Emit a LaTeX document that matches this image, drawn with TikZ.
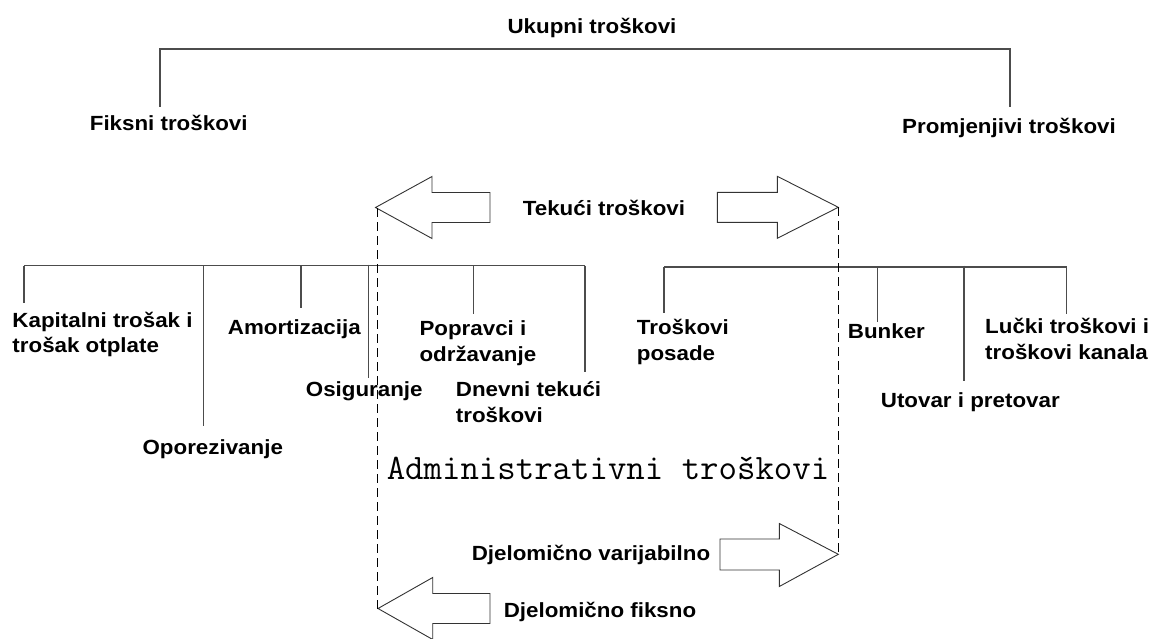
\documentclass[tikz,border=0pt]{standalone}
\usepackage{fontspec}
\setmainfont{Liberation Sans}
\newfontfamily\lab{Liberation Sans}[FakeStretch=1.09]
\begin{document}
\begin{tikzpicture}[x=1pt,y=-1pt,
  lbl/.style={font=\lab\bfseries\fontsize{20.5}{25.5}\selectfont, inner sep=0pt, text=black},
  lbl2/.style={lbl, align=left, anchor=north west},
  tree/.style={draw=black!70, line width=1.3pt},
  bigarrow/.style={draw=black!80, line width=0.9pt, fill=white, line join=miter},
  guide/.style={draw=black, line width=1pt, dash pattern=on 9pt off 5pt}]
\useasboundingbox (0,0) rectangle (1150,639);

% ---------- top level ----------
\node[lbl, anchor=base] (total) at (592,34) {Ukupni troškovi};
\node[lbl, anchor=base] (fix) at (168.7,131) {Fiksni troškovi};
\node[lbl, anchor=base] (var) at (1009,134) {Promjenjivi troškovi};
\coordinate (tl) at (160,49);
\coordinate (tr) at (1010,49);
\coordinate (tlb) at (160,107);
\coordinate (trb) at (1010,107);
\draw[tree] (tlb) -- (tl) -- (tr) -- (trb);

% ---------- arrows ----------
\node[lbl, anchor=base] (cur) at (604,215) {Tekući troškovi};
\coordinate (a1) at (375.5,207.5);
\coordinate (a2) at (838.3,207.3);
\coordinate (a3) at (838.3,554.3);
\coordinate (a4) at (378,608.5);
\draw[bigarrow] (a1) -- (432,176.5) -- (432,192.5) -- (490,192.5) -- (490,222.5) -- (432,222.5) -- (432,238.5) -- cycle;
\draw[bigarrow] (a2) -- (777.3,176.3) -- (777.3,192.3) -- (717.3,192.3) -- (717.3,222.3) -- (777.3,222.3) -- (777.3,238.3) -- cycle;
\draw[bigarrow] (a3) -- (779.3,523.5) -- (779.3,539) -- (720,539) -- (720,570) -- (779.3,570) -- (779.3,586.5) -- cycle;
\draw[bigarrow] (a4) -- (432.7,577.5) -- (432.7,593.5) -- (490,593.5) -- (490,623.5) -- (432.7,623.5) -- (432.7,639.5) -- cycle;
\node[lbl, anchor=base] (pvar) at (591,560) {Djelomično varijabilno};
\node[lbl, anchor=base] (pfix) at (600,617) {Djelomično fiksno};
\node[font=\ttfamily\fontsize{35.8}{36}\selectfont\addfontfeatures{FakeBold=1.2}, inner sep=0pt, anchor=base] (adm) at (608,479) {Administrativni troškovi};

% ---------- fixed costs ----------
\node[lbl2] (kap) at (12.3,311.5) {Kapitalni trošak i\\trošak otplate};
\node[lbl, anchor=base west] (opo) at (142.4,454) {Oporezivanje};
\node[lbl, anchor=base west] (amo) at (227.7,334) {Amortizacija};
\node[lbl, anchor=base west] (osi) at (305.7,396) {Osiguranje};
\node[lbl2] (pop) at (419.3,320.5) {Popravci i\\održavanje};
\node[lbl2] (dne) at (455.7,381.5) {Dnevni tekući\\troškovi};
\coordinate (l0) at (24,265.7);
\coordinate (l6) at (585,265.7);
\draw[tree] (l0) -- (l6);
\draw[tree] (l0) -- (24,302.7);
\draw[tree] (203.7,265.7) -- (203.7,425.7);
\draw[tree] (301,265.7) -- (301,307.7);
\draw[tree] (368.3,264.5) -- (368.3,378);
\draw[tree] (473.7,265.7) -- (473.7,314);
\draw[tree] (l6) -- (585,371.7);

% ---------- variable costs ----------
\node[lbl2] (pos) at (636.7,319.3) {Troškovi\\posade};
\node[lbl, anchor=base west] (bun) at (847.7,338.3) {Bunker};
\node[lbl, anchor=base west] (uto) at (880.7,407) {Utovar i pretovar};
\node[lbl2] (luc) at (985,318.3) {Lučki troškovi i\\troškovi kanala};
\coordinate (r0) at (664,267);
\coordinate (r4) at (1066.7,267);
\draw[tree] (r0) -- (r4);
\draw[tree] (r0) -- (664,313.3);
\draw[tree] (877.5,267) -- (877.5,321.7);
\draw[tree] (964,265.5) -- (964,381);
\draw[tree] (r4) -- (1066.7,314.3);

% ---------- dashed guides ----------
\draw[guide] (377,208) -- (a4 -| 377,0);
\draw[guide] (a2) -- (a3);
\end{tikzpicture}
\end{document}
